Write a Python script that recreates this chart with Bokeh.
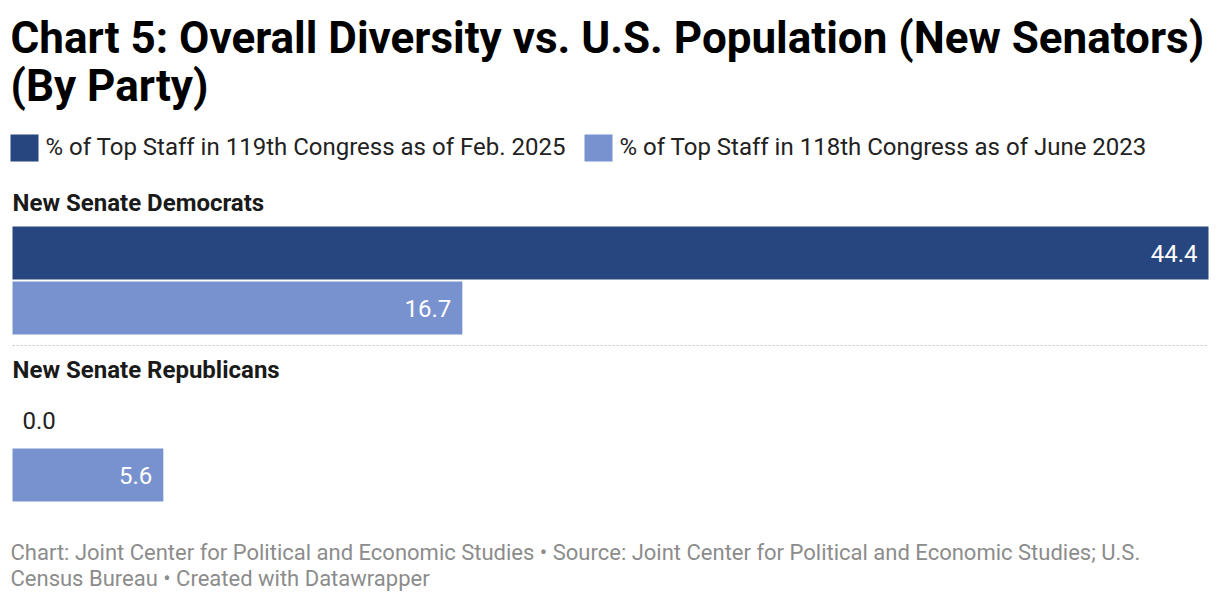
from bokeh.plotting import figure
from bokeh.models import Range1d, Label, ColumnDataSource
from bokeh.embed import file_html
from bokeh.resources import INLINE

# ---- data ----
groups = ["New Senate Democrats", "New Senate Republicans"]
series_names = ["% of Top Staff in 119th Congress as of Feb. 2025",
                "% of Top Staff in 118th Congress as of June 2023"]
values_119 = [44.4, 0.0]
values_118 = [16.7, 5.6]
title_lines = ["Chart 5: Overall Diversity vs. U.S. Population (New Senators)", "(By Party)"]
footer_lines = ["Chart: Joint Center for Political and Economic Studies \u2022 Source: Joint Center for Political and Economic Studies; U.S.",
                "Census Bureau \u2022 Created with Datawrapper"]

# ---- styles ----
DARK = "#27467f"
LIGHT = "#7891cf"
FONT = "Roboto"
W, H = 1220, 600
X0, X1 = 12, 1208          # pixel positions of 0 and the max value
vmax = max(values_119 + values_118)
scale = (X1 - X0) / vmax

p = figure(width=W, height=H, output_backend="svg", toolbar_location=None,
           x_range=Range1d(-X0 / scale, vmax + (W - X1) / scale),
           y_range=Range1d(H, 0), min_border=0)
p.axis.visible = False
p.grid.visible = False
p.outline_line_color = None
p.background_fill_color = "white"

# title
for i, t in enumerate(title_lines):
    p.add_layout(Label(x=10, y=37 + 48 * i, x_units="screen", y_units="data", text=t,
                       text_font=FONT, text_font_style="bold", text_font_size="44px",
                       text_color="#000000", text_baseline="middle"))

# legend
leg_x = [10, 584]
for i, (name, col) in enumerate(zip(series_names, [DARK, LIGHT])):
    p.quad(left=[(leg_x[i] - X0) / scale], right=[(leg_x[i] + 28 - X0) / scale],
           top=[134], bottom=[161], fill_color=col, line_color=None)
    p.add_layout(Label(x=leg_x[i] + 35, y=146, x_units="screen", y_units="data", text=name,
                       text_font=FONT, text_font_size="24px", text_color="#222222",
                       text_baseline="middle"))

# groups
group_top = [188, 355]
bar_h = 53
for gi, g in enumerate(groups):
    top = group_top[gi]
    p.add_layout(Label(x=X0, y=top + 14, x_units="screen", y_units="data", text=g,
                       text_font=FONT, text_font_style="bold", text_font_size="24px",
                       text_color="#1a1a1a", text_baseline="middle"))
    ys = [top + 38 + bar_h / 2, top + 38 + bar_h + 2 + bar_h / 2]
    vals = [values_119[gi], values_118[gi]]
    cols = [DARK, LIGHT]
    src = ColumnDataSource(dict(y=ys, right=vals, color=cols))
    p.hbar(y="y", left=0, right="right", height=bar_h, fill_color="color",
           line_color=None, source=src)
    for y, v in zip(ys, vals):
        if v * scale > 60:
            p.add_layout(Label(x=v, y=y, x_units="data", y_units="data", text=f"{v:.1f}",
                               x_offset=-11, text_align="right", text_baseline="middle",
                               text_font=FONT, text_font_size="24px", text_color="white"))
        else:
            p.add_layout(Label(x=v, y=y, x_units="data", y_units="data", text=f"{v:.1f}",
                               x_offset=10, text_align="left", text_baseline="middle",
                               text_font=FONT, text_font_size="24px", text_color="#222222"))

# separator
p.segment(x0=[0], x1=[vmax], y0=[345], y1=[345], line_color="#c4c4c4",
          line_dash="2 2", line_width=1.2)

# footer
for i, t in enumerate(footer_lines):
    p.add_layout(Label(x=10, y=552 + 26 * i, x_units="screen", y_units="data", text=t,
                       text_font=FONT, text_font_size="22px", text_color="#8c8c8c",
                       text_baseline="middle"))

open("out.html", "w").write(file_html(p, INLINE))
